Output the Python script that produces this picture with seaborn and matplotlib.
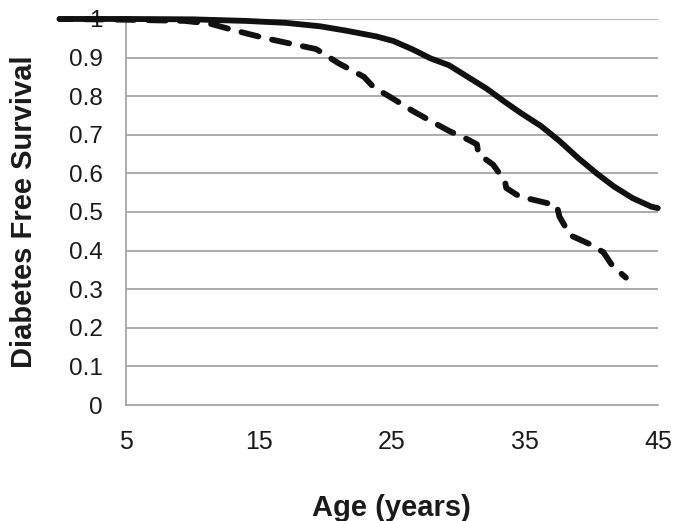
import seaborn as sns
import pandas as pd
import matplotlib.pyplot as plt

# values (age in years, survival fraction)
solid_age = [0, 5, 10, 14, 17, 19.6, 21.5, 23.8, 25.1, 26.5, 27.9, 29.3, 30.7,
             32.1, 33.5, 34.8, 36.2, 37.6, 39.0, 40.4, 41.7, 43.1, 44.5, 45]
solid_surv = [1, 1, 0.999, 0.995, 0.99, 0.981, 0.97, 0.955, 0.943, 0.922, 0.898,
              0.88, 0.85, 0.82, 0.785, 0.754, 0.723, 0.684, 0.64, 0.60, 0.566,
              0.536, 0.514, 0.51]

dashed_age = [0, 5, 9.4, 11.3, 13.2, 15.5, 18.2, 19.3, 21.0, 22.9, 23.6, 25.1,
              26.5, 27.9, 29.3, 30.7, 31.4, 31.5, 32.6, 33.5, 33.6, 34.6, 36.2,
              37.4, 37.6, 38.4, 39.8, 40.9, 41.6, 42.6]
dashed_surv = [1, 0.998, 0.995, 0.988, 0.97, 0.95, 0.93, 0.922, 0.885, 0.85,
               0.824, 0.793, 0.763, 0.736, 0.71, 0.688, 0.675, 0.65, 0.623, 0.58,
               0.562, 0.54, 0.527, 0.517, 0.488, 0.44, 0.418, 0.396, 0.36, 0.33]

x_ticks = [5, 15, 25, 35, 45]
y_ticks = [0, 0.1, 0.2, 0.3, 0.4, 0.5, 0.6, 0.7, 0.8, 0.9, 1]
y_ticklabels = ["0", "0.1", "0.2", "0.3", "0.4", "0.5", "0.6", "0.7", "0.8", "0.9", "1"]

sns.set_style("white")
plt.rcParams['font.family'] = ['Liberation Sans', 'DejaVu Sans']

grid_col = "#a6a6a6"
text_col = "#1a1a1a"

solid = pd.DataFrame({"age": solid_age, "surv": solid_surv})
dashed = pd.DataFrame({"age": dashed_age, "surv": dashed_surv})

fig = plt.figure(figsize=(6.74, 5.21), dpi=100)
ax = fig.add_axes([0.187, 0.2226, 0.789, 0.741])

for y in y_ticks[1:]:
    ax.axhline(y, color=grid_col, lw=1.3, zorder=1)

sns.lineplot(data=solid, x="age", y="surv", ax=ax, color="#111111", lw=4.2,
             clip_on=False, zorder=3, sort=False, solid_capstyle="round")
sns.lineplot(data=dashed, x="age", y="surv", ax=ax, color="#111111", lw=4.2,
             linestyle=(1, (3, 2.4)), dash_capstyle="round",
             clip_on=False, zorder=3, sort=False)

ax.set_xlim(5, 45)
ax.set_ylim(0, 1)
ax.set_xticks(x_ticks)
ax.set_yticks(y_ticks)
ax.set_yticklabels(y_ticklabels)

for side in ["top", "right"]:
    ax.spines[side].set_visible(False)
for side in ["left", "bottom"]:
    ax.spines[side].set_color(grid_col)
    ax.spines[side].set_linewidth(1.3)

ax.tick_params(axis="x", direction="out", length=7, width=1.3, color=grid_col,
               labelsize=18, labelcolor=text_col, pad=11)
ax.tick_params(axis="y", direction="out", length=6, width=1.3, color=grid_col,
               labelsize=17.5, labelcolor=text_col, pad=11)

ax.set_xlabel("Age (years)", fontsize=21, fontweight="bold", color=text_col,
              labelpad=29)
ax.set_ylabel("Diabetes Free Survival", fontsize=21, fontweight="bold",
              color=text_col, labelpad=22)

fig.savefig("out.png", dpi=100)
